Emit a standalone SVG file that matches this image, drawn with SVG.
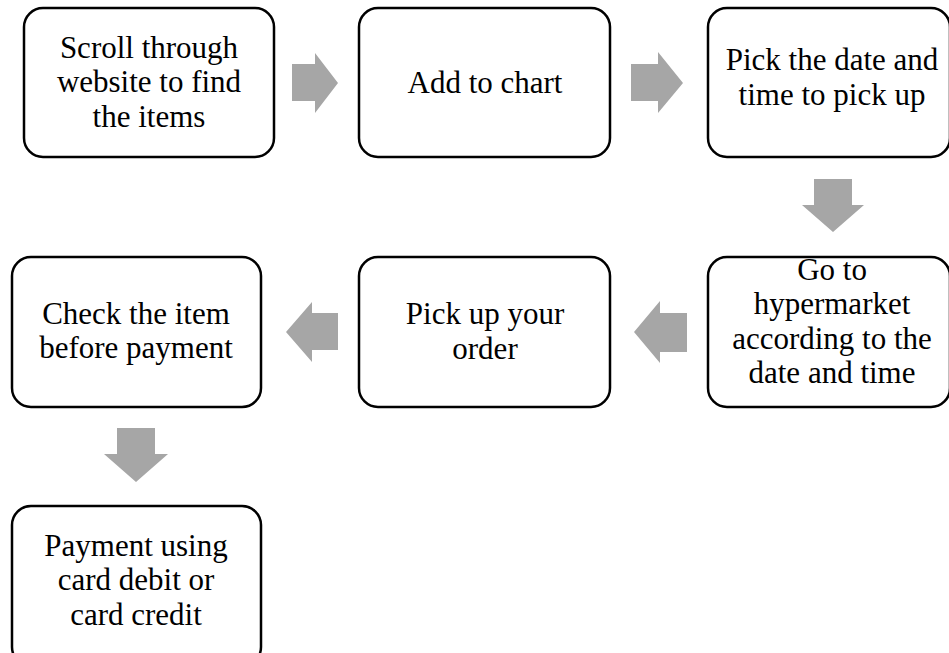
<svg xmlns="http://www.w3.org/2000/svg" width="949" height="653" viewBox="0 0 949 653">
<style>
.box{fill:#fff;stroke:#000;stroke-width:2.5}
.t{font-family:"Liberation Serif","Times New Roman",serif;font-size:31px;fill:#000;text-anchor:middle}
.arr{fill:#a6a6a6;stroke:none}
</style>
<rect width="949" height="653" fill="#fff"/>
<g id="connectors">
<polygon class="arr" points="292,64 315,64 315,53 338,83 315,113 315,101 292,101"/>
<polygon class="arr" points="631,64 658,64 658,52 683,83 658,113 658,101 631,101"/>
<polygon class="arr" points="814,179 852,179 852,205 864,205 833,232 802,205 814,205"/>
<polygon class="arr" points="687,313 660,313 660,301 634,332 660,363 660,352 687,352"/>
<polygon class="arr" points="338,313 312,313 312,302 286,332 312,362 312,350 338,350"/>
<polygon class="arr" points="117,428 155,428 155,454 168,454 136,482 104,454 117,454"/>
</g>
<g id="n1"><rect class="box" x="24" y="8" width="250" height="149" rx="19"/>
<text class="t"><tspan x="149" y="57.5">Scroll through</tspan><tspan x="149" y="92">website to find</tspan><tspan x="149" y="126.5">the items</tspan></text></g>
<g id="n2"><rect class="box" x="359" y="8" width="251" height="149" rx="19"/>
<text class="t" x="485" y="93">Add to chart</text></g>
<g id="n3"><rect class="box" x="708" y="8" width="242" height="149" rx="19"/>
<text class="t"><tspan x="832" y="70">Pick the date and</tspan><tspan x="832" y="104.5">time to pick up</tspan></text></g>
<g id="n4"><rect class="box" x="708" y="257" width="242" height="150" rx="19"/>
<text class="t"><tspan x="832" y="279.5">Go to</tspan><tspan x="832" y="314">hypermarket</tspan><tspan x="832" y="348.5">according to the</tspan><tspan x="832" y="383">date and time</tspan></text></g>
<g id="n5"><rect class="box" x="359" y="257" width="251" height="150" rx="19"/>
<text class="t"><tspan x="485" y="324">Pick up your</tspan><tspan x="485" y="358.5">order</tspan></text></g>
<g id="n6"><rect class="box" x="12" y="257" width="249" height="150" rx="19"/>
<text class="t"><tspan x="136" y="323.5">Check the item</tspan><tspan x="136" y="358">before payment</tspan></text></g>
<g id="n7"><rect class="box" x="12" y="506" width="249" height="160" rx="19"/>
<text class="t"><tspan x="136" y="555.5">Payment using</tspan><tspan x="136" y="590">card debit or</tspan><tspan x="136" y="624.5">card credit</tspan></text></g>
</svg>
